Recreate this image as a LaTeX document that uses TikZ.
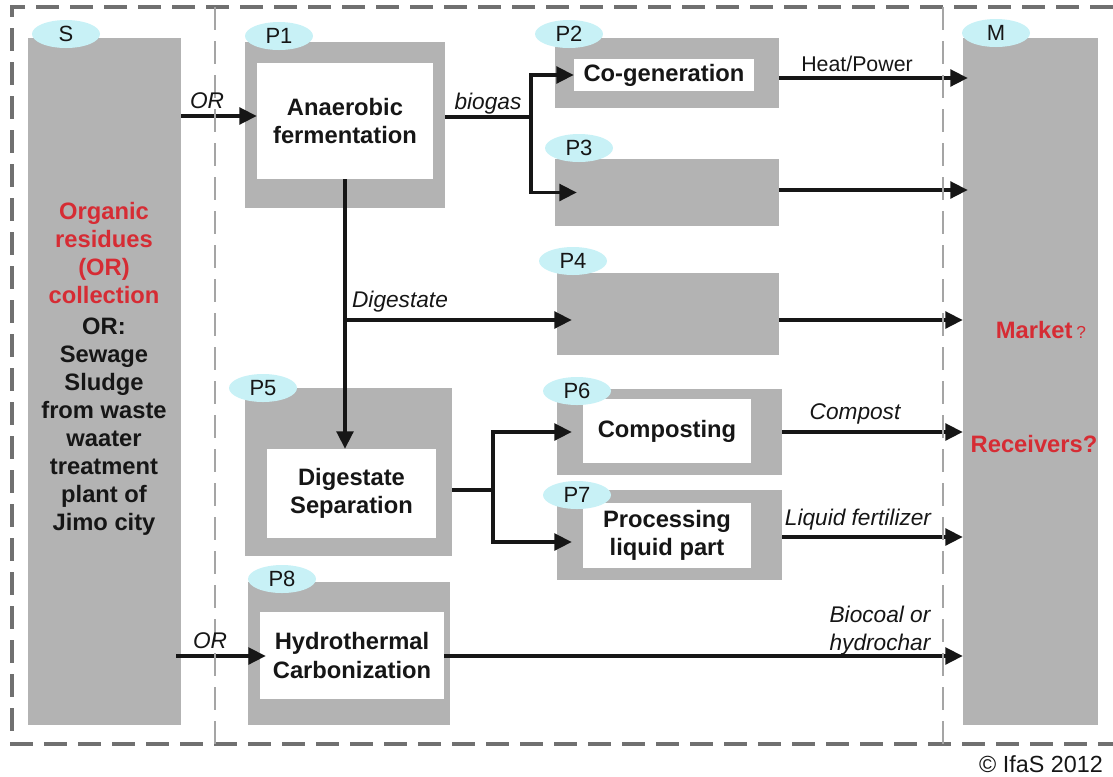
\documentclass[tikz,border=0pt]{standalone}
\usepackage{fontspec}
\setmainfont{Liberation Sans}
\usetikzlibrary{arrows.meta,shapes.geometric,calc}
\definecolor{boxgray}{RGB}{179,179,179}
\definecolor{tagcyan}{RGB}{200,241,246}
\definecolor{alertred}{RGB}{214,44,52}
\definecolor{framegray}{RGB}{112,112,112}
\definecolor{innergray}{RGB}{165,165,165}
\definecolor{ink}{RGB}{22,22,22}
\begin{document}
\begin{tikzpicture}[x=0.75pt,y=-0.75pt,
  sz/.style 2 args={minimum width=#1*0.75pt, minimum height=#2*0.75pt},
  graybox/.style={fill=boxgray, draw=none, inner sep=0pt},
  whitebox/.style={fill=white, draw=none, inner sep=0pt, align=center, text=ink,
    font=\fontsize{17.8}{21.5}\selectfont\bfseries},
  tag/.style={ellipse, fill=tagcyan, draw=none, inner sep=0pt, text=ink,
    minimum width=51pt, minimum height=21pt, font=\fontsize{16.5}{16.5}\selectfont},
  flow/.style={draw=ink, line width=2.5pt},
  arr/.style={flow, -{Triangle[length=13pt,width=12.5pt]}},
  lbl/.style={font=\fontsize{17}{21}\selectfont\itshape, inner sep=0pt, text=ink, align=center},
  bigtext/.style={font=\fontsize{17.8}{21}\selectfont\bfseries, align=center, inner sep=0pt},
  frame/.style={draw=framegray, line width=2.5pt, dash pattern=on 17pt off 8.5pt},
  divider/.style={draw=innergray, line width=2pt, dash pattern=on 17pt off 8.5pt},
]
\useasboundingbox (0,0) rectangle (1113,776);

% outer dashed frame
\draw[frame] (1113,7) -- (12,7) -- (12,744) -- (1113,744);

% gray blocks
\node[graybox, sz={153}{687}] (S)  at (104.5,381.5) {};
\node[graybox, sz={135}{687}] (M)  at (1030.5,381.5) {};
\node[graybox, sz={200}{166}] (P1) at (345,125) {};
\node[graybox, sz={224}{70}]  (P2) at (667,73) {};
\node[graybox, sz={224}{67}]  (P3) at (667,192.5) {};
\node[graybox, sz={222}{82}]  (P4) at (668,314) {};
\node[graybox, sz={207}{168}] (P5) at (348.5,472) {};
\node[graybox, sz={225}{86}]  (P6) at (669.5,432) {};
\node[graybox, sz={225}{90}]  (P7) at (669.5,535) {};
\node[graybox, sz={202}{143}] (P8) at (349,653.5) {};

% white process boxes
\node[whitebox, sz={176}{116}] (P1w) at (345,121) {Anaerobic\\fermentation};
\node[whitebox, sz={180}{32}]  (P2w) at (664,75) {Co-generation};
\node[whitebox, sz={169}{89}]  (P5w) at (351.5,493.5) {Digestate\\Separation};
\node[whitebox, sz={168}{64}]  (P6w) at (667,431) {Composting};
\node[whitebox, sz={168}{65}]  (P7w) at (667,535.5) {Processing\\liquid part};
\node[whitebox, sz={184}{87}]  (P8w) at (352,655.5) {Hydrothermal\\Carbonization};

% source and market texts
\node[bigtext, text=alertred] (Stitle) at (104,253) {Organic\\residues\\(OR)\\collection};
\node[bigtext, text=ink] (Sdesc) at (104,426.5)
  {OR:\\Sewage\\Sludge\\from waste\\waater\\treatment\\plant of\\Jimo city};
\node[bigtext, text=alertred] (Mkt) at (1041,330) {Market\,{\mdseries\fontsize{13}{13}\selectfont ?}};
\node[bigtext, text=alertred] (Rcv) at (1034,444) {Receivers?};

% section tags
\node[tag] (tS)  at (66,34)   {S};
\node[tag] (tP1) at (279,36)  {P1};
\node[tag] (tP2) at (569,34)  {P2};
\node[tag] (tP3) at (579,148) {P3};
\node[tag] (tP4) at (573,261) {P4};
\node[tag] (tP5) at (263,388) {P5};
\node[tag] (tP6) at (577,391) {P6};
\node[tag] (tP7) at (577,495) {P7};
\node[tag] (tP8) at (282,579) {P8};
\node[tag] (tM)  at (996,33)  {M};

% organic residues into the processes
\draw[arr] (S.east |- 0,116) -- (P1w.west |- 0,116);
\draw[arr] ($(S.east |- 0,656)+(-5,0)$) -- ($(P8w.west)+(6,0.5)$);

% biogas branch
\coordinate (bgFork) at (531,117);
\draw[flow] (P1.east |- bgFork) -- (bgFork);
\draw[arr] (bgFork) |- (P2w.west);
\draw[arr] (bgFork) |- ($(P3.west)+(22,0)$);

% digestate path
\coordinate (dgSplit) at (345,320);
\draw[arr] (P1w.south) -- (P1w.south |- P5w.north);
\draw[arr] (dgSplit) -- ($(P4.west)+(15,6)$);

% separation branch
\coordinate (spFork) at (493,490);
\draw[flow] (P5.east |- spFork) -- (spFork);
\draw[arr] (spFork) |- ($(P6.west)+(15,0)$);
\draw[arr] (spFork) |- ($(P7.west)+(15,7)$);

% products to market
\draw[arr] (P2.east |- 0,78)  -- ($(M.west |- 0,78)+(5,0)$);
\draw[arr] (P3.east |- 0,190) -- ($(M.west |- 0,190)+(5,0)$);
\draw[arr] (P4.east |- 0,320) -- (M.west |- 0,320);
\draw[arr] (P6.east |- 0,432) -- (M.west |- 0,432);
\draw[arr] (P7.east |- 0,537) -- (M.west |- 0,537);
\draw[arr] (P8w.east |- 0,656) -- (M.west |- 0,656);

% section dividers, laid over the connectors
\draw[divider] (215,7) -- (215,744);
\draw[divider] (943,7) -- (943,744);

% connector labels
\node[lbl] (lOR1)  at (207,101) {OR};
\node[lbl] (lBio)  at (488,104) {biogas};
\node[lbl, font=\fontsize{16}{19}\selectfont] (lHeat) at (857,64) {Heat/Power};
\node[lbl] (lDig)  at (400,302) {Digestate};
\node[lbl] (lComp) at (855,414) {Compost};
\node[lbl] (lLiq)  at (858,520) {Liquid fertilizer};
\node[lbl] (lOR2)  at (210,641) {OR};
\node[lbl] (lChar) at (880,631) {Biocoal or\\hydrochar};

% credit line
\node[font=\fontsize{17.5}{20}\selectfont, text=ink, inner sep=0pt] (credit) at (1041,764) {© IfaS 2012};
\end{tikzpicture}
\end{document}
